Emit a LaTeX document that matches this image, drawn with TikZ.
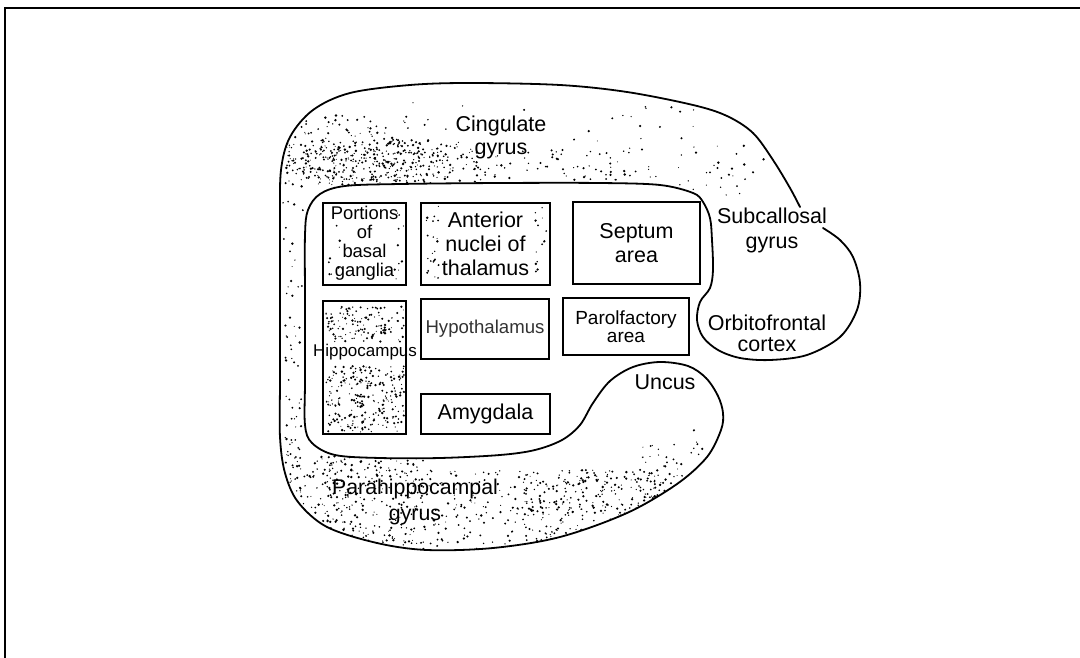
\documentclass[tikz,border=0pt]{standalone}
\usepackage{fontspec}
\setmainfont{Liberation Sans}
\newcommand\speckle[5]{% x0, y0, width, height, count
  \foreach \k in {1,...,#5}{\fill ({#1+rnd*#3},{#2+rnd*#4}) circle ({0.5+0.85*rnd});}}
\begin{document}
\begin{tikzpicture}[x=1pt,y=-1pt,
  contour/.style={line width=1.8pt, line join=round, line cap=round},
  region/.style={draw, line width=1.2pt, inner sep=0pt},
  lbl/.style={align=center, inner sep=0pt, font=\fontsize{21.5}{24}\selectfont},
  small/.style={align=center, inner sep=0pt, font=\fontsize{18.4}{19}\selectfont}]
\useasboundingbox (0,0) rectangle (1080,658);
\pgfmathsetseed{1729}

% page frame
\draw[line width=1.1pt] (1080,8) -- (5,8) -- (5,658);

% stippled shading of the cingulate band
\begin{scope}
  \clip plot[smooth cycle, tension=0.6] coordinates {(281,200) (281,170) (290,137) (313,110)
    (350,93) (470,83) (560,85) (627,92) (693,105) (727,116) (753,133) (773,160) (790,188)
    (790,205) (713,205) (693,193) (660,185) (560,182) (345,186) (318,196) (306,212)};
  \speckle{285}{140}{190}{48}{320}
  \speckle{300}{150}{120}{30}{120}
  \speckle{290}{115}{120}{40}{90}
  \speckle{470}{150}{160}{30}{70}
  \speckle{620}{145}{150}{50}{40}
  \speckle{400}{100}{300}{50}{30}
\end{scope}
% light dots down the left band
\speckle{283}{190}{20}{270}{55}

% stippled shading of the parahippocampal band
\begin{scope}
  \clip plot[smooth cycle, tension=0.6] coordinates {(280,420) (280,437) (285,473) (298,502)
    (327,527) (377,543) (427,550) (493,548) (560,537) (627,513) (677,484) (707,457)
    (721,430) (700,440) (660,455) (600,455) (562,440) (535,450) (440,458) (335,455)
    (312,443) (305,420)};
  \speckle{285}{455}{140}{95}{380}
  \speckle{420}{470}{110}{80}{120}
  \speckle{520}{470}{150}{80}{400}
  \speckle{640}{440}{80}{60}{55}
\end{scope}
\speckle{640}{430}{70}{40}{12}

% stippled hippocampus
\speckle{326}{306}{78}{36}{130}
\speckle{326}{366}{78}{66}{250}

% a few dots along the edges of the thalamus box
\speckle{425}{206}{14}{76}{22}
\speckle{535}{206}{12}{76}{14}
\speckle{328}{210}{12}{70}{8}
\speckle{392}{210}{12}{70}{10}

% outline of the limbic lobe
\draw[contour] plot[smooth, tension=0.55] coordinates {
  (823,228) (840,240) (853,257) (860,283) (857,310) (840,337) (807,355) (770,360)
  (740,358) (718,350) (703,337) (697,320) (700,302) (710,288) (713,270) (712,240)
  (710,218) (703,202) (693,193) (660,185) (600,183) (500,183) (400,184) (345,186)
  (320,194) (308,210) (305,235) (305,300) (305,380) (305,425) (312,443) (335,455)
  (380,458) (440,458) (500,455) (535,450) (562,440) (580,425) (593,403) (610,381)
  (633,367) (660,362) (688,366) (706,378) (718,396) (723,413) (721,430) (707,457)
  (677,484) (627,513) (560,537) (493,548) (427,550) (377,543) (327,527) (298,502)
  (285,473) (280,437) (280,380) (280,300) (280,220) (281,170) (290,137) (313,110)
  (350,93) (410,85) (470,83) (560,85) (627,92) (693,105) (727,116) (753,133)
  (773,160) (790,188) (800,207)};

% inner structures
\node[region, minimum width=83pt, minimum height=82pt] (basal) at (364.5,244) {};
\node[small] (basaltxt) at (364.5,243) {Portions\\of\\basal\\ganglia};
\node[region, minimum width=129pt, minimum height=82pt, lbl] (thal) at (485.5,244)
  {Anterior\\nuclei of\\thalamus};
\node[region, minimum width=127pt, minimum height=82pt, lbl] (septum) at (636.5,243)
  {Septum\\area};
\node[region, minimum width=83pt, minimum height=133pt] (hippo) at (364.5,367.5) {};
\node[inner sep=0pt, font=\fontsize{17}{19}\selectfont] (hippotxt) at (365,352) {Hippocampus};
\node[draw, line width=2.6pt, inner sep=0pt, minimum width=128pt, minimum height=60pt,
  font=\fontsize{18.6}{20}\selectfont, text=black!80] (hypo) at (485,329) {Hypothalamus};
\node[region, minimum width=126pt, minimum height=57pt, align=center,
  font=\fontsize{19}{18}\selectfont] (parolf) at (626,326.5) {Parolfactory\\area};
\node[region, minimum width=129pt, minimum height=40pt, lbl] (amyg) at (485.5,414) {Amygdala};

% gyrus labels
\node[lbl, font=\fontsize{21.5}{23}\selectfont] (cing) at (501,137) {Cingulate\\gyrus};
\node[lbl, font=\fontsize{21.5}{25}\selectfont] (subcal) at (772,230) {Subcallosal\\gyrus};
\node[lbl, font=\fontsize{21.5}{21}\selectfont] (orbito) at (767,333) {Orbitofrontal\\cortex};
\node[lbl] (uncus) at (665,382) {Uncus};
\node[lbl, font=\fontsize{21.3}{26}\selectfont] (parahip) at (415,502) {Parahippocampal\\gyrus};
\end{tikzpicture}
\end{document}
